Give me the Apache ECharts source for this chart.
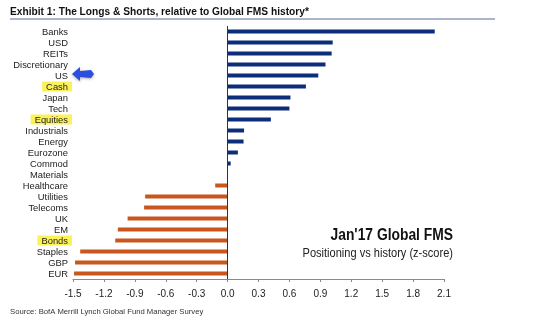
<!DOCTYPE html>
<html><head><meta charset="utf-8">
<script src="https://cdn.jsdelivr.net/npm/echarts@6/dist/echarts.min.js"></script>
<style>html,body{margin:0;padding:0;background:#fff}#c{width:540px;height:331px}</style>
</head><body><div id="c"></div>
<script>
const categories = ['Banks','USD','REITs','Discretionary','US','Cash','Japan','Tech','Equities','Industrials','Energy','Eurozone','Commod','Materials','Healthcare','Utilities','Telecoms','UK','EM','Bonds','Staples','GBP','EUR'];
const zScores = [2.01,1.02,1.01,0.95,0.88,0.76,0.61,0.60,0.42,0.16,0.155,0.10,0.03,0.0,-0.12,-0.80,-0.81,-0.97,-1.065,-1.09,-1.43,-1.48,-1.49];
const highlighted = ['Cash','Equities','Bonds'];
const xTicks = {min:-1.5, max:2.1, interval:0.3};

const FONT = "'Liberation Sans',Arial,Helvetica,sans-serif";
const chart = echarts.init(document.getElementById('c'));
chart.setOption({
  animation:false,
  backgroundColor:'#fff',
  grid:{left:73,right:96,top:26,bottom:52},
  xAxis:{type:'value',min:xTicks.min,max:xTicks.max,interval:xTicks.interval,
    splitLine:{show:false},
    axisLine:{show:true,lineStyle:{color:'#8a8a8a',width:1}},
    axisTick:{show:true,length:3,lineStyle:{color:'#8a8a8a'}},
    axisLabel:{margin:10,color:'#222',fontFamily:FONT,fontSize:10,formatter:v=>(+v).toFixed(1)}},
  yAxis:{type:'category',data:categories,inverse:true,
    axisLine:{show:false,onZero:false},axisTick:{show:false},
    axisLabel:{interval:0,margin:1,color:'#222',fontFamily:FONT,fontSize:9.4,
      formatter:v=>highlighted.includes(v)?'{hl|'+v+'}':'{n|'+v+'}',
      rich:{hl:{backgroundColor:'#fbf25a',padding:[1,4,0,4],lineHeight:10,fontFamily:FONT,fontSize:9.4,color:'#222'},
            n:{padding:[1,4,0,4],lineHeight:10,fontFamily:FONT,fontSize:9.4,color:'#222'}}}},
  series:[{type:'bar',data:zScores,barWidth:4,
    itemStyle:{color:p=>p.value>=0?'#0c2d7a':'#c8561e'},
    markLine:{silent:true,symbol:'none',label:{show:false},
      lineStyle:{color:'#333',width:1,type:'solid'},data:[{xAxis:0}]}}],
  graphic:[
    {type:'text',x:10,y:12.5,style:{text:"Exhibit 1: The Longs & Shorts, relative to Global FMS history*",
      font:"bold 10.2px "+FONT,fill:'#111',verticalAlign:'middle'}},
    {type:'rect',shape:{x:10,y:18,width:485,height:2},style:{fill:'#a9b6ca'}},
    {type:'text',x:453,y:236,scaleX:0.865,style:{text:"Jan'17 Global FMS",
      font:"bold 16px "+FONT,fill:'#111',align:'right',verticalAlign:'middle'}},
    {type:'text',x:453,y:253,scaleX:0.85,style:{text:"Positioning vs history (z-score)",
      font:"13px "+FONT,fill:'#222',align:'right',verticalAlign:'middle'}},
    {type:'text',x:10,y:311.5,style:{text:"Source: BofA Merrill Lynch Global Fund Manager Survey",
      font:"7.7px "+FONT,fill:'#333',verticalAlign:'middle'}},
    {type:'polygon',shape:{points:[[72,74],[80,67],[80,71],[91,70],[94,74],[91,78],[80,77],[80,81]]},
     style:{fill:'#2a4fe0',shadowBlur:3,shadowColor:'rgba(0,0,0,0.35)',shadowOffsetY:1}}
  ]
});
</script></body></html>
